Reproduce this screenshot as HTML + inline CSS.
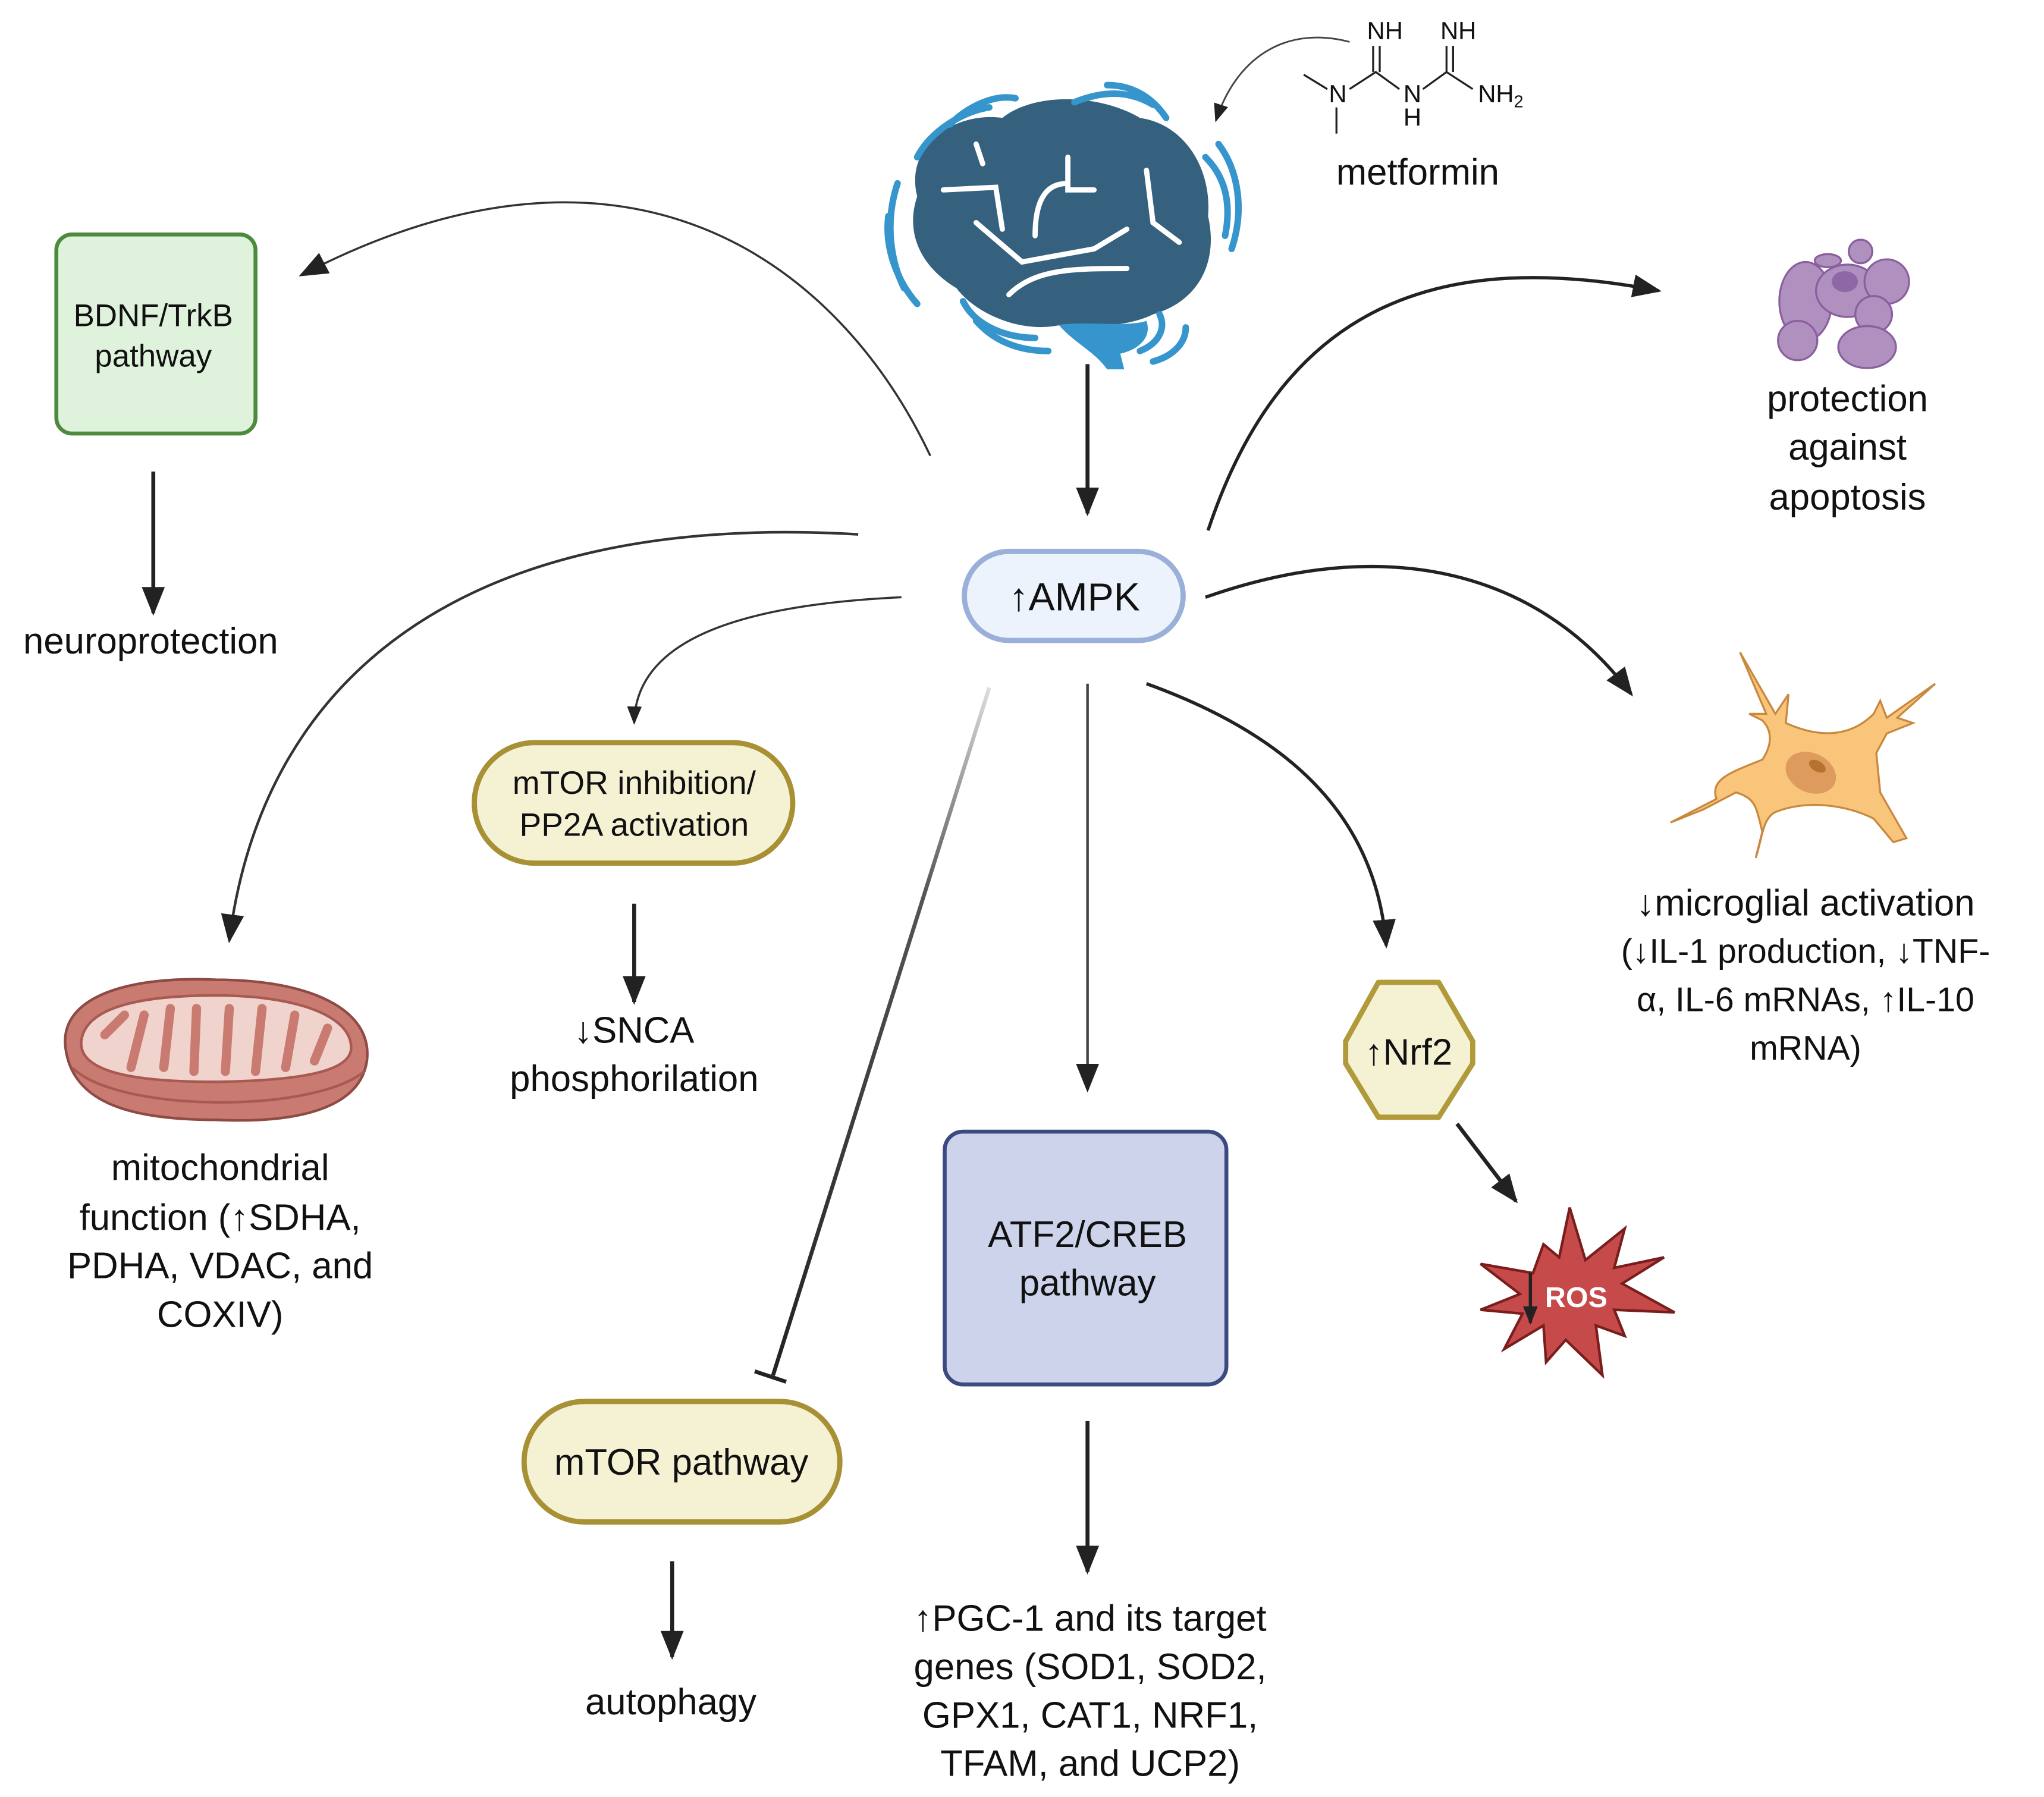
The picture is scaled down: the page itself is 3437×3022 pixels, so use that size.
<!DOCTYPE html>
<html><head><meta charset="utf-8"><style>html,body{margin:0;padding:0;background:#fff}svg{display:block}text{font-family:"Liberation Sans",sans-serif;fill:#111}</style></head>
<body>
<svg width="3437" height="3022" viewBox="0 0 1560 1372" preserveAspectRatio="none" xmlns="http://www.w3.org/2000/svg">
<defs>
<marker id="ah" viewBox="0 0 10 10" refX="9" refY="5" markerWidth="6" markerHeight="6" markerUnits="userSpaceOnUse" orient="auto"><path d="M0,0 L10,5 L0,10 z" fill="#222"/></marker>
<marker id="a2" viewBox="0 0 10 10" refX="9" refY="5" markerWidth="22" markerHeight="22" markerUnits="userSpaceOnUse" orient="auto"><path d="M0,1 L10,5 L0,9 z" fill="#222"/></marker>
<marker id="a3" viewBox="0 0 10 10" refX="9" refY="5" markerWidth="14" markerHeight="14" markerUnits="userSpaceOnUse" orient="auto"><path d="M0,1 L10,5 L0,9 z" fill="#222"/></marker>
<linearGradient id="g1" x1="755" y1="525" x2="590" y2="1050" gradientUnits="userSpaceOnUse"><stop offset="0" stop-color="#ddd"/><stop offset="0.3" stop-color="#555"/><stop offset="1" stop-color="#222"/></linearGradient>
</defs>

<!-- brain -->
<g>
<path d="M700,150 C690,110 730,85 765,90 C790,70 840,72 870,90 C905,95 925,130 922,165 C930,200 915,230 880,240 C860,250 830,250 810,248 C780,255 745,240 730,220 C705,205 690,180 700,150 z" fill="#35617e"/>
<path d="M808,248 C830,245 860,250 875,245 C880,260 865,268 855,270 L858,282 L845,282 C835,268 820,262 808,248 z" fill="#3595cc"/>
<g stroke="#fff" stroke-width="4" fill="none" stroke-linecap="round">
<path d="M720,145 L760,143 L765,175"/><path d="M745,170 L780,200 L835,190 L860,175"/><path d="M790,180 C790,150 800,140 815,140"/><path d="M815,120 L815,145 L835,145"/><path d="M875,130 L880,170 L900,185"/><path d="M770,225 C790,205 820,205 860,205"/><path d="M745,110 L750,125"/>
</g>
<g stroke="#3595cc" stroke-width="5" fill="none" stroke-linecap="round">
<path d="M700,120 C710,100 735,85 755,82"/><path d="M725,95 C740,80 760,72 775,75"/><path d="M820,78 C840,70 860,68 880,80"/><path d="M845,65 C865,65 880,75 890,90"/><path d="M685,140 C675,170 680,200 690,220"/><path d="M678,165 C675,190 685,215 700,232"/><path d="M920,120 C935,135 940,155 935,180"/><path d="M930,110 C945,130 950,160 940,190"/><path d="M735,230 C745,250 770,258 790,258"/><path d="M745,245 C760,262 780,268 800,268"/><path d="M885,240 C890,250 885,262 870,268"/><path d="M905,250 C905,262 895,272 880,276"/>
</g>
</g>

<!-- metformin -->
<g stroke="#222" stroke-width="1.5" fill="none">
<path d="M995,57 L1013,68"/><path d="M1030,68 L1050,55 L1068,68"/><path d="M1086,68 L1104,55 L1124,68"/>
<path d="M1048,35 L1048,55 M1053,35 L1053,55"/><path d="M1104,35 L1104,55 M1109,35 L1109,55"/><path d="M1020,82 L1020,102"/>
</g>
<text x="1057" y="30" font-size="19" text-anchor="middle">NH</text>
<text x="1113" y="30" font-size="19" text-anchor="middle">NH</text>
<text x="1021" y="78" font-size="19" text-anchor="middle">N</text>
<text x="1078" y="78" font-size="19" text-anchor="middle">N</text>
<text x="1078" y="96" font-size="19" text-anchor="middle">H</text>
<text x="1128" y="78" font-size="19">NH<tspan font-size="13" dy="4">2</tspan></text>
<text x="1082" y="141" font-size="28" text-anchor="middle">metformin</text>
<path d="M1030,32 C985,20 945,40 928,92" stroke="#444" stroke-width="1.3" fill="none" marker-end="url(#a3)"/>

<!-- BDNF -->
<rect x="43" y="179" width="152" height="152" rx="12" fill="#dff3dc" stroke="#4e8a3e" stroke-width="3"/>
<text x="117" y="249" font-size="24" text-anchor="middle">BDNF/TrkB</text>
<text x="117" y="280" font-size="24" text-anchor="middle">pathway</text>
<line x1="117" y1="360" x2="117" y2="468" stroke="#222" stroke-width="3" marker-end="url(#a2)"/>
<text x="115" y="499" font-size="28" text-anchor="middle">neuroprotection</text>
<path d="M710,348 C640,200 480,80 230,210" stroke="#333" stroke-width="1.6" fill="none" marker-end="url(#a2)"/>

<!-- brain to AMPK -->
<line x1="830" y1="278" x2="830" y2="392" stroke="#222" stroke-width="3" marker-end="url(#a2)"/>
<rect x="736" y="421" width="167" height="68" rx="34" fill="#edf3fc" stroke="#9ab0d8" stroke-width="4"/>
<text x="820" y="466" font-size="30" text-anchor="middle">↑AMPK</text>

<!-- apoptosis -->
<path d="M922,405 C980,230 1100,190 1266,222" stroke="#222" stroke-width="2.5" fill="none" marker-end="url(#a2)"/>
<g fill="#b090bf" stroke="#8a5f9e" stroke-width="1.5">
<ellipse cx="1378" cy="230" rx="20" ry="30"/><circle cx="1372" cy="260" r="15"/><ellipse cx="1410" cy="222" rx="24" ry="20"/><circle cx="1440" cy="215" r="17"/><circle cx="1430" cy="240" r="14"/><ellipse cx="1425" cy="265" rx="22" ry="16"/><circle cx="1420" cy="192" r="9"/><ellipse cx="1395" cy="199" rx="10" ry="5"/>
</g>
<ellipse cx="1408" cy="215" rx="10" ry="8" fill="#8e68a6"/>
<text x="1410" y="314" font-size="28" text-anchor="middle">protection</text>
<text x="1410" y="351" font-size="28" text-anchor="middle">against</text>
<text x="1410" y="389" font-size="28" text-anchor="middle">apoptosis</text>

<!-- microglia -->
<path d="M920,456 C1050,410 1170,430 1245,530" stroke="#222" stroke-width="2.5" fill="none" marker-end="url(#a2)"/>
<path d="M1328,498 L1355,545 L1365,530 L1363,552 C1385,562 1410,565 1430,545 L1435,535 L1440,548 L1477,522 L1448,548 L1460,552 L1440,560 L1432,575 L1435,605 L1455,640 L1445,643 L1430,625 C1410,615 1380,610 1355,620 C1345,625 1345,640 1340,655 L1345,635 C1340,615 1340,610 1325,605 L1300,618 L1275,628 L1310,610 C1305,595 1320,590 1345,580 C1355,565 1350,555 1345,550 L1335,545 L1348,545 z" fill="#f9c57a" stroke="#c8883d" stroke-width="1.5"/>
<ellipse cx="1382" cy="590" rx="20" ry="15" fill="#dd9c5d" transform="rotate(25 1382 590)"/>
<ellipse cx="1387" cy="585" rx="7" ry="4" fill="#b8722f" transform="rotate(30 1387 585)"/>
<text x="1378" y="699" font-size="28" text-anchor="middle">↓microglial activation</text>
<text x="1378" y="735" font-size="26" text-anchor="middle">(↓IL-1 production, ↓TNF-</text>
<text x="1378" y="772" font-size="26" text-anchor="middle">α, IL-6 mRNAs, ↑IL-10</text>
<text x="1378" y="809" font-size="26" text-anchor="middle">mRNA)</text>

<!-- Nrf2 -->
<path d="M875,522 C980,560 1050,620 1058,722" stroke="#222" stroke-width="2.5" fill="none" marker-end="url(#a2)"/>
<path d="M1052,750 L1098,750 L1124,795 L1124,812 L1098,853 L1052,853 L1027,812 L1027,795 z" fill="#f5f2d4" stroke="#b09a3a" stroke-width="4" stroke-linejoin="round"/>
<text x="1075" y="813" font-size="28" text-anchor="middle">↑Nrf2</text>
<line x1="1112" y1="858" x2="1157" y2="917" stroke="#222" stroke-width="3" marker-end="url(#a2)"/>
<polygon points="1198,922 1210,962 1240,938 1232,968 1270,960 1238,980 1278,1002 1232,1000 1240,1020 1218,1012 1223,1050 1195,1023 1180,1040 1178,1012 1148,1030 1162,1003 1130,1000 1160,988 1130,965 1170,972 1178,950 1190,960" fill="#c64a4a" stroke="#7a1d1d" stroke-width="2" stroke-linejoin="miter"/>
<line x1="1168" y1="972" x2="1168" y2="1010" stroke="#222" stroke-width="2.5" marker-end="url(#a3)"/>
<text x="1203" y="998" font-size="22" font-weight="bold" text-anchor="middle" style="fill:#fff">ROS</text>

<!-- ATF2 -->
<line x1="830" y1="522" x2="830" y2="832" stroke="#444" stroke-width="2" marker-end="url(#a2)"/>
<rect x="721" y="864" width="215" height="193" rx="14" fill="#cdd3ea" stroke="#3d4a80" stroke-width="3"/>
<text x="830" y="952" font-size="28" text-anchor="middle">ATF2/CREB</text>
<text x="830" y="989" font-size="28" text-anchor="middle">pathway</text>
<line x1="830" y1="1085" x2="830" y2="1200" stroke="#222" stroke-width="3" marker-end="url(#a2)"/>
<text x="832" y="1245" font-size="28" text-anchor="middle">↑PGC-1 and its target</text>
<text x="832" y="1282" font-size="28" text-anchor="middle">genes (SOD1, SOD2,</text>
<text x="832" y="1319" font-size="28" text-anchor="middle">GPX1, CAT1, NRF1,</text>
<text x="832" y="1356" font-size="28" text-anchor="middle">TFAM, and UCP2)</text>

<!-- mTOR pathway -->
<line x1="755" y1="525" x2="590" y2="1050" stroke="url(#g1)" stroke-width="3"/>
<line x1="576" y1="1047" x2="600" y2="1055" stroke="#222" stroke-width="3"/>
<rect x="400" y="1070" width="241" height="92" rx="46" fill="#f5f2d4" stroke="#a89035" stroke-width="4"/>
<text x="520" y="1126" font-size="28" text-anchor="middle">mTOR  pathway</text>
<line x1="513" y1="1192" x2="513" y2="1265" stroke="#222" stroke-width="3" marker-end="url(#a2)"/>
<text x="512" y="1309" font-size="28" text-anchor="middle">autophagy</text>

<!-- mTOR inhibition -->
<path d="M688,456 C560,462 485,490 484,552" stroke="#333" stroke-width="1.6" fill="none" marker-end="url(#a3)"/>
<rect x="362" y="567" width="243" height="92" rx="46" fill="#f5f2d4" stroke="#a89035" stroke-width="4"/>
<text x="484" y="606" font-size="25" text-anchor="middle">mTOR inhibition/</text>
<text x="484" y="638" font-size="25" text-anchor="middle">PP2A activation</text>
<line x1="484" y1="690" x2="484" y2="765" stroke="#222" stroke-width="3" marker-end="url(#a2)"/>
<text x="484" y="796" font-size="28" text-anchor="middle">↓SNCA</text>
<text x="484" y="833" font-size="28" text-anchor="middle">phosphorilation</text>

<!-- mitochondria -->
<path d="M655,408 C350,390 200,520 175,718" stroke="#333" stroke-width="2" fill="none" marker-end="url(#a2)"/>
<path d="M50,800 C45,760 100,745 165,748 C235,748 285,770 280,810 C275,845 230,858 165,855 C95,855 55,840 50,800 z" fill="#c97b72" stroke="#8e4a44" stroke-width="2"/>
<path d="M62,795 C65,768 110,760 165,760 C225,760 268,775 268,800 C268,818 230,825 165,826 C100,826 60,818 62,795 z" fill="#f0d3cc" stroke="#a85a52" stroke-width="2"/>
<g stroke="#c97b72" stroke-width="7" fill="none" stroke-linecap="round">
<path d="M80,790 L95,775 M100,815 L110,775 M125,815 L130,770 M148,818 L150,770 M172,818 L175,770 M195,818 L200,770 M218,815 L225,775 M240,810 L250,785"/>
</g>
<path d="M55,815 C90,850 240,850 278,818" stroke="#a85a52" stroke-width="2" fill="none"/>
<text x="168" y="901" font-size="28" text-anchor="middle">mitochondrial</text>
<text x="168" y="939" font-size="28" text-anchor="middle">function (↑SDHA,</text>
<text x="168" y="976" font-size="28" text-anchor="middle">PDHA, VDAC, and</text>
<text x="168" y="1013" font-size="28" text-anchor="middle">COXIV)</text>
</svg>
</body></html>
